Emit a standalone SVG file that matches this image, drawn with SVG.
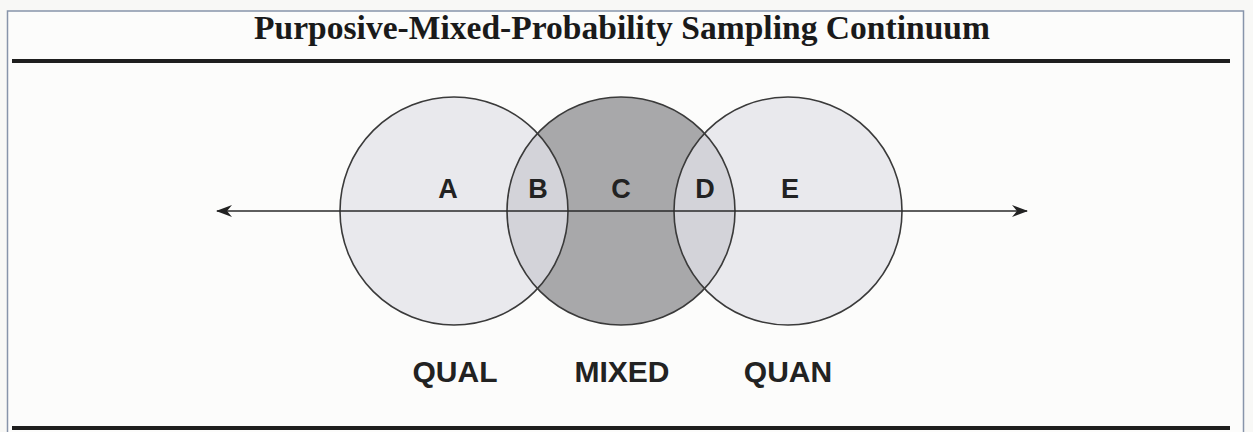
<svg xmlns="http://www.w3.org/2000/svg" width="1253" height="432" viewBox="0 0 1253 432">
<defs>
<style>
.circ{stroke:#3a3a3a;stroke-width:1.6}
.lbl{font-family:"Liberation Sans",Arial,sans-serif;font-weight:bold;fill:#222;text-anchor:middle}
.title{font-family:"Liberation Serif","Times New Roman",serif;font-weight:bold;fill:#1a1a1a;text-anchor:middle}
.rule{stroke:#1e1e1e;stroke-width:4}
</style>
<marker id="ah" viewBox="0 0 16 12" refX="15" refY="6" markerWidth="16" markerHeight="12" markerUnits="userSpaceOnUse" orient="auto-start-reverse">
<path d="M0,0 L16,6 L0,12 L5,6 Z" fill="#222"/>
</marker>
<clipPath id="cL"><circle cx="454" cy="211" r="114"/></clipPath>
<clipPath id="cR"><circle cx="788" cy="211" r="114"/></clipPath>
</defs>
<rect x="0" y="0" width="1253" height="432" fill="#f8f8f6"/>
<rect x="7.5" y="11" width="1236" height="430" fill="#fcfcfb" stroke="#8794aa" stroke-width="1.5"/>
<g id="header">
<text class="title" x="622" y="39" font-size="33" textLength="736" lengthAdjust="spacingAndGlyphs">Purposive-Mixed-Probability Sampling Continuum</text>
<line class="rule" x1="12" y1="61" x2="1230" y2="61"/>
</g>
<g id="qual">
<circle cx="454" cy="211" r="114" fill="#e9e9ed"/>
</g>
<g id="quan">
<circle cx="788" cy="211" r="114" fill="#e9e9ed"/>
</g>
<g id="mixed">
<circle cx="621" cy="211" r="114" fill="#a8a8aa"/>
<circle cx="621" cy="211" r="114" fill="#d3d3d9" clip-path="url(#cL)"/>
<circle cx="621" cy="211" r="114" fill="#d3d3d9" clip-path="url(#cR)"/>
</g>
<g id="outlines" fill="none">
<circle class="circ" cx="454" cy="211" r="114"/>
<circle class="circ" cx="788" cy="211" r="114"/>
<circle class="circ" cx="621" cy="211" r="114"/>
</g>
<g id="connectors">
<line x1="217" y1="211" x2="1027" y2="211" stroke="#2a2a2a" stroke-width="1.5" marker-start="url(#ah)" marker-end="url(#ah)"/>
</g>
<g id="regions">
<text class="lbl" x="448" y="198" font-size="27">A</text>
<text class="lbl" x="538" y="198" font-size="27">B</text>
<text class="lbl" x="621" y="198" font-size="27">C</text>
<text class="lbl" x="705" y="198" font-size="27">D</text>
<text class="lbl" x="790" y="198" font-size="27">E</text>
</g>
<g id="labels">
<text class="lbl" x="455" y="382" font-size="30">QUAL</text>
<text class="lbl" x="622" y="382" font-size="30">MIXED</text>
<text class="lbl" x="788" y="382" font-size="30">QUAN</text>
</g>
<line class="rule" x1="12" y1="428" x2="1230" y2="428"/>
</svg>
